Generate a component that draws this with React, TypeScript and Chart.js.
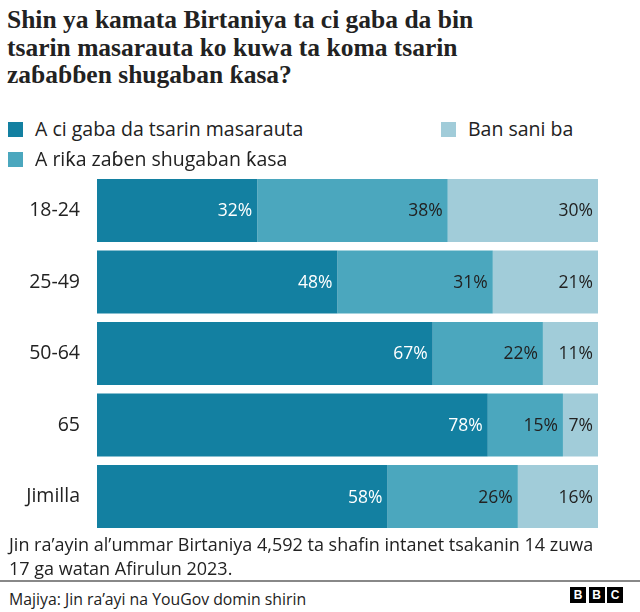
import React, { useEffect, useRef } from "react";
import { Chart, registerables } from "chart.js";

Chart.register(...registerables);

const categories = ["18-24", "25-49", "50-64", "65", "Jimilla"];
const seriesNames = ["A ci gaba da tsarin masarauta", "A riƙa zaɓen shugaban ƙasa", "Ban sani ba"];
const keepMonarchy = [32, 48, 67, 78, 58];
const electHead = [38, 31, 22, 15, 26];
const dontKnow = [30, 21, 11, 7, 16];
const titleLines = [
  "Shin ya kamata Birtaniya ta ci gaba da bin",
  "tsarin masarauta ko kuwa ta koma tsarin",
  "zaɓaɓɓen shugaban ƙasa?",
];
const noteLines = [
  "Jin ra’ayin al’ummar Birtaniya 4,592 ta shafin intanet tsakanin 14 zuwa",
  "17 ga watan Afirulun 2023.",
];
const sourceText = "Majiya: Jin ra’ayi na YouGov domin shirin";
const colors = ["#1380A1", "#4BA7BE", "#A1CCD9"];
const labelColors = ["#ffffff", "#222222", "#222222"];

const SANS = "'Open Sans', 'Noto Sans', sans-serif";

const valueLabels = {
  id: "valueLabels",
  afterDatasetsDraw(chart: any) {
    const ctx = chart.ctx;
    ctx.save();
    ctx.font = `17.5px ${SANS}`;
    ctx.textAlign = "right";
    ctx.textBaseline = "middle";
    chart.data.datasets.forEach((ds: any, di: number) => {
      const meta = chart.getDatasetMeta(di);
      meta.data.forEach((bar: any, i: number) => {
        ctx.fillStyle = labelColors[di];
        ctx.fillText(ds.data[i] + "%", bar.x - 5, bar.y + 1);
      });
    });
    ctx.restore();
  },
};

export default function App() {
  const ref = useRef<HTMLCanvasElement>(null);
  useEffect(() => {
    document.body.style.margin = "0";
    const chart = new Chart(ref.current!, {
      type: "bar",
      data: {
        labels: categories,
        datasets: [keepMonarchy, electHead, dontKnow].map((d, i) => ({
          label: seriesNames[i],
          data: d,
          backgroundColor: colors[i],
          borderWidth: 0,
          barPercentage: 0.882,
          categoryPercentage: 1,
        })),
      },
      options: {
        indexAxis: "y",
        animation: false,
        responsive: false,
        layout: { padding: { top: 0, bottom: 0, left: 0, right: 42 } },
        plugins: { legend: { display: false }, tooltip: { enabled: false } },
        scales: {
          x: { stacked: true, min: 0, max: 100, display: false },
          y: {
            stacked: true,
            grid: { display: false, drawTicks: true, tickLength: 17 },
            border: { display: false },
            ticks: { color: "#222", font: { size: 19.5, family: SANS }, padding: 0 },
            afterFit: (s: any) => { s.width = 97; },
          },
        },
      },
      plugins: [valueLabels],
    });
    return () => chart.destroy();
  }, []);

  const legendItem = (i: number, left: number, top: number) => (
    <div style={{ position: "absolute", left, top, height: 26, display: "flex", alignItems: "center" }}>
      <div style={{ width: 15, height: 15, background: colors[i], marginRight: 12 }} />
      <span style={{ fontSize: 19.5, lineHeight: "26px", color: "#222", whiteSpace: "nowrap" }}>{seriesNames[i]}</span>
    </div>
  );

  return (
    <div style={{ position: "absolute", left: 0, top: 0, width: 640, height: 612, background: "#fff", fontFamily: SANS, overflow: "hidden" }}>
      <div style={{ position: "absolute", left: 7, top: 6, width: 630, fontFamily: "'Liberation Serif', serif", fontWeight: "bold", fontSize: 25.5, lineHeight: "27.5px", color: "#222", whiteSpace: "nowrap" }}>
        {titleLines.map((l, i) => <div key={i}>{l}</div>)}
      </div>
      <canvas ref={ref} width={640} height={381} style={{ position: "absolute", left: 0, top: 163, width: 640, height: 381 }} />
      {legendItem(0, 8, 116)}
      {legendItem(2, 441, 116)}
      {legendItem(1, 8, 146)}
      <div style={{ position: "absolute", left: 9, top: 532, width: 630, fontSize: 18, lineHeight: "24px", color: "#222", whiteSpace: "nowrap" }}>
        {noteLines.map((l, i) => <div key={i}>{l}</div>)}
      </div>
      <div style={{ position: "absolute", left: 0, top: 580, width: 640, height: 1.5, background: "#888" }} />
      <div style={{ position: "absolute", left: 9, top: 589, fontSize: 15.8, lineHeight: "20px", color: "#222", whiteSpace: "nowrap" }}>
        {sourceText}
      </div>
      <div style={{ position: "absolute", left: 570, top: 587, display: "flex", gap: 2.5 }}>
        {["B", "B", "C"].map((c, i) => (
          <div key={i} style={{ width: 16, height: 16, background: "#000", color: "#fff", fontFamily: "'Liberation Sans', Arial, sans-serif", fontWeight: "bold", fontSize: 12, lineHeight: "16px", textAlign: "center" }}>{c}</div>
        ))}
      </div>
    </div>
  );
}
